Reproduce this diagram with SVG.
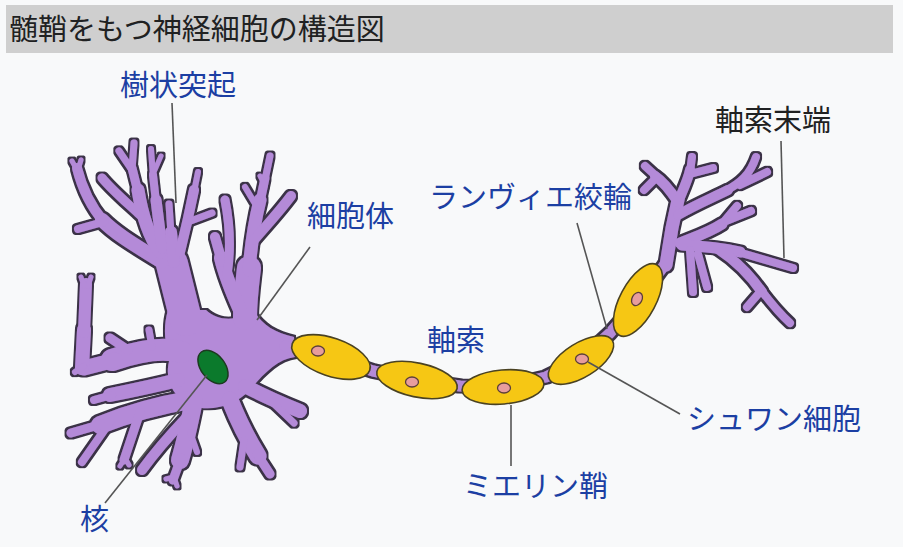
<svg xmlns="http://www.w3.org/2000/svg" width="903" height="547" viewBox="0 0 903 547">
<style>
.bg{fill:#f8f9fa}
.bar{fill:#cfcfcf}
.t{font-family:"Noto Sans CJK JP","Noto Sans",sans-serif;font-size:29px}
.lbl{fill:#1c3fa3}
.blk{fill:#202122}
.d{fill:none;stroke:#b48ad8;stroke-linecap:round;stroke-linejoin:round}
.body{fill:#b48ad8}
.seg{fill:#f6c714;stroke:#4a4222;stroke-width:1.6}
.nuc{fill:#e89d9c;stroke:#5b3e3a;stroke-width:1.3}
.lead{fill:none;stroke:#555;stroke-width:1.6}
</style>
<defs>
<filter id="outline" x="-10%" y="-10%" width="120%" height="120%">
<feMorphology in="SourceAlpha" operator="dilate" radius="1.5" result="d"/>
<feFlood flood-color="#3b3347"/>
<feComposite in2="d" operator="in" result="o"/>
<feMerge><feMergeNode in="o"/><feMergeNode in="SourceGraphic"/></feMerge>
</filter>
</defs>
<rect class="bg" x="0" y="0" width="903" height="547"/>
<g id="title">
<rect class="bar" x="6" y="5" width="887" height="48"/>
<text class="t blk" x="9" y="40">髄鞘をもつ神経細胞の構造図</text>
</g>
<g id="neuron" filter="url(#outline)">
<path class="body" d="M294,337 C276,333 262,325 255,312 L242,316 C230,321 215,319 206,310 L168,310 C162,330 166,348 170,358 C164,376 170,396 192,406 C212,412 234,406 250,390 C264,373 278,359 295,357 Z"/>
<polyline class="d" stroke-width="11" points="285,346 331,357 373,371 417,380 460,386 503,387 546,377 581,360 610,333 638,301 666,263"/>
<!-- left trunk -->
<path class="d" stroke-width="32" d="M186,320 L172,264"/>
<path class="d" stroke-width="14" d="M162,262 C140,248 118,236 102,220"/>
<path class="d" stroke-width="10" d="M104,222 C92,208 83,192 77,168"/>
<path class="d" stroke-width="5" d="M77,170 L72,161 M78,170 L81,160"/>
<path class="d" stroke-width="8" d="M103,222 L78,229"/>
<path class="d" stroke-width="13" d="M160,252 C150,238 142,215 138,190"/>
<path class="d" stroke-width="9" d="M138,192 L132,168"/>
<path class="d" stroke-width="7" d="M132,170 L119,151 M132,170 L134,143"/>
<path class="d" stroke-width="9" d="M140,215 C126,202 112,190 102,178"/>
<path class="d" stroke-width="11" d="M162,248 L156,200"/>
<path class="d" stroke-width="8" d="M156,202 L153,175"/>
<path class="d" stroke-width="6" d="M153,177 L151,149"/>
<path class="d" stroke-width="5" d="M154,172 L161,156"/>
<path class="d" stroke-width="12" d="M174,262 L171,232"/>
<path class="d" stroke-width="7" d="M171,234 L169,204"/>
<path class="d" stroke-width="10" d="M180,252 C186,228 191,205 194,190"/>
<path class="d" stroke-width="6" d="M194,192 L198,172"/>
<path class="d" stroke-width="7" d="M188,222 L212,213"/>
<!-- right tree -->
<path class="d" stroke-width="24" d="M245,318 C245,300 247,285 249,268"/>
<path class="d" stroke-width="13" d="M249,270 C251,245 255,220 260,200"/>
<path class="d" stroke-width="9" d="M260,202 L265,178"/>
<path class="d" stroke-width="7" d="M265,180 L270,156"/>
<path class="d" stroke-width="5" d="M265,186 L260,176"/>
<path class="d" stroke-width="6" d="M257,207 L245,187"/>
<path class="d" stroke-width="10" d="M254,240 C266,226 279,212 291,196"/>
<path class="d" stroke-width="14" d="M240,310 C232,292 225,275 221,258"/>
<path class="d" stroke-width="10" d="M222,262 L215,237"/>
<path class="d" stroke-width="9" d="M227,275 C231,250 230,225 225,200"/>
<!-- left arms -->
<path class="d" stroke-width="22" d="M182,352 C160,346 135,352 112,360"/>
<path class="d" stroke-width="15" d="M115,360 L84,368"/>
<path class="d" stroke-width="9" d="M128,350 L110,338"/>
<path class="d" stroke-width="7" d="M152,347 L149,330"/>
<path class="d" stroke-width="14" d="M82,368 L84,330"/>
<path class="d" stroke-width="12" d="M84,332 L86,284"/>
<path class="d" stroke-width="5" d="M84,286 L81,277 M88,286 L91,277"/>
<path class="d" stroke-width="6" d="M84,366 L75,372"/>
<path class="d" stroke-width="14" d="M178,380 C158,385 130,391 110,395"/>
<path class="d" stroke-width="8" d="M112,395 L94,400"/>
<path class="d" stroke-width="18" d="M190,400 C160,405 125,415 100,425"/>
<path class="d" stroke-width="9" d="M102,424 L71,433"/>
<path class="d" stroke-width="8" d="M110,422 L82,462"/>
<path class="d" stroke-width="9" d="M140,412 L124,460"/>
<path class="d" stroke-width="5" d="M125,458 L120,466 M125,458 L129,465"/>
<!-- lower branches -->
<path class="d" stroke-width="18" d="M194,400 C190,420 186,440 180,460"/>
<path class="d" stroke-width="9" d="M181,458 L173,480"/>
<path class="d" stroke-width="5" d="M174,477 L166,479 M174,477 L177,486"/>
<path class="d" stroke-width="10" d="M186,418 C170,435 155,452 142,470"/>
<path class="d" stroke-width="6" d="M190,432 L197,452"/>
<path class="d" stroke-width="17" d="M230,400 C238,420 248,440 258,456"/>
<path class="d" stroke-width="9" d="M257,454 L270,474"/>
<path class="d" stroke-width="7" d="M244,440 L240,467"/>
<path class="d" stroke-width="14" d="M245,386 C262,395 280,403 300,411"/>
<path class="d" stroke-width="7" d="M272,402 L294,423"/>
<!-- axon terminal -->
<path class="d" stroke-width="13" d="M666,265 L672,228 L678,200"/>
<path class="d" stroke-width="10" d="M678,202 C670,190 664,182 655,176"/>
<path class="d" stroke-width="8" d="M656,176 L645,166 M656,178 L644,190"/>
<path class="d" stroke-width="10" d="M678,202 C683,190 688,180 690,170"/>
<path class="d" stroke-width="8" d="M690,172 L692,157 M690,174 L713,168"/>
<path class="d" stroke-width="10" d="M678,215 C695,205 712,198 728,190"/>
<path class="d" stroke-width="8" d="M727,190 C740,183 750,175 756,157 M740,185 L767,172"/>
<path class="d" stroke-width="11" d="M680,243 C695,237 710,232 722,224"/>
<path class="d" stroke-width="8" d="M721,225 L737,206 M726,221 L751,211"/>
<path class="d" stroke-width="11" d="M682,245 C700,246 722,248 740,252"/>
<path class="d" stroke-width="8" d="M738,252 L793,268"/>
<path class="d" stroke-width="10" d="M718,249 C735,260 750,275 762,292"/>
<path class="d" stroke-width="8" d="M761,290 C770,302 780,314 790,323 M760,292 L747,307"/>
<path class="d" stroke-width="8" d="M690,250 L693,292 M698,254 L707,287"/>
</g>
<g id="nucleus">
<ellipse cx="213" cy="367" rx="19" ry="12" transform="rotate(52 213 367)" fill="#0b7a2c" stroke="#1c3a20" stroke-width="1.5"/>
</g>
<g id="myelin">
<ellipse class="seg" cx="331" cy="357" rx="41" ry="19" transform="rotate(19 331 357)"/>
<ellipse class="nuc" cx="318" cy="351" rx="6.5" ry="5"/>
<ellipse class="seg" cx="417" cy="380" rx="41" ry="17" transform="rotate(12 417 380)"/>
<ellipse class="nuc" cx="412" cy="382" rx="6.5" ry="5"/>
<ellipse class="seg" cx="503" cy="387" rx="41" ry="17" transform="rotate(-5 503 387)"/>
<ellipse class="nuc" cx="504" cy="388" rx="6.5" ry="5"/>
<ellipse class="seg" cx="581" cy="360" rx="37" ry="17" transform="rotate(-32 581 360)"/>
<ellipse class="nuc" cx="582" cy="359" rx="6.5" ry="5"/>
<ellipse class="seg" cx="638" cy="300" rx="40" ry="18" transform="rotate(-62 638 300)"/>
<ellipse class="nuc" cx="637" cy="299" rx="7" ry="5" transform="rotate(-62 637 299)"/>
</g>
<g id="connectors">
<line class="lead" x1="172" y1="103" x2="176" y2="203"/>
<line class="lead" x1="310" y1="247" x2="257" y2="320"/>
<line class="lead" x1="207" y1="375" x2="105" y2="503"/>
<line class="lead" x1="511" y1="405" x2="511" y2="466"/>
<line class="lead" x1="588" y1="362" x2="680" y2="414"/>
<line class="lead" x1="577" y1="223" x2="607" y2="329"/>
<line class="lead" x1="781" y1="141" x2="784" y2="258"/>
</g>
<g id="label-dendrite"><text class="t lbl" x="120" y="96">樹状突起</text></g>
<g id="label-soma"><text class="t lbl" x="307" y="227">細胞体</text></g>
<g id="label-ranvier"><text class="t lbl" x="429" y="208">ランヴィエ絞輪</text></g>
<g id="label-terminal"><text class="t blk" x="715" y="131">軸索末端</text></g>
<g id="label-axon"><text class="t lbl" x="427" y="351">軸索</text></g>
<g id="label-schwann"><text class="t lbl" x="687" y="430">シュワン細胞</text></g>
<g id="label-myelin"><text class="t lbl" x="463" y="497">ミエリン鞘</text></g>
<g id="label-nucleus"><text class="t lbl" x="80" y="530">核</text></g>
</svg>
